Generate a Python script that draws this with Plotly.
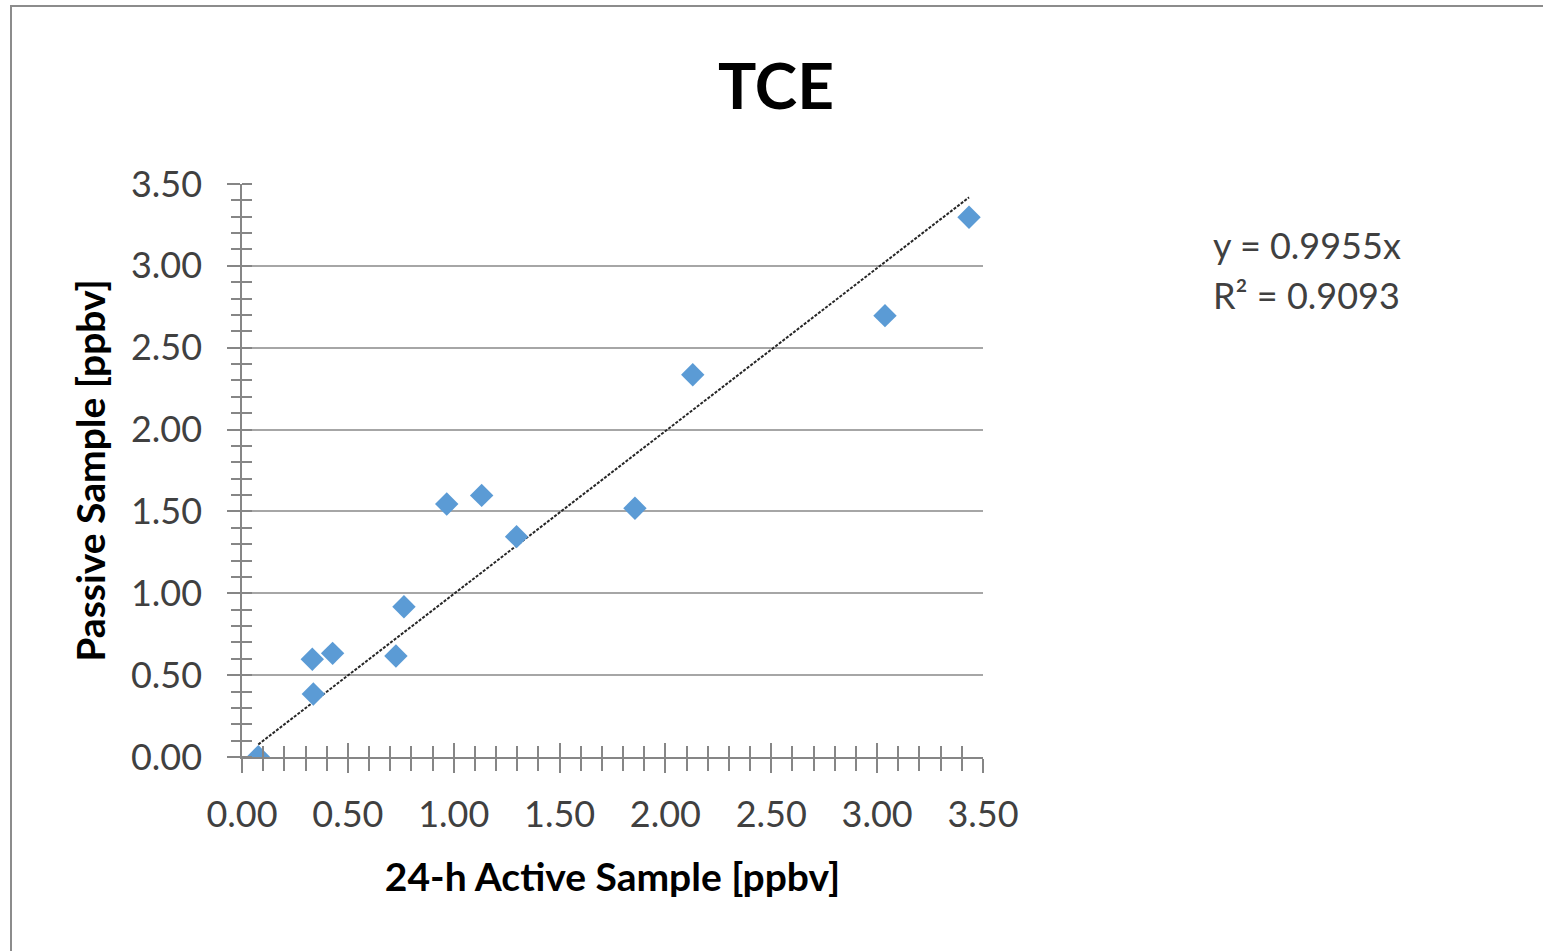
import plotly.graph_objects as go

# Data
active_24h = [0.077, 0.332, 0.337, 0.428, 0.727, 0.765, 0.967, 1.132, 1.297, 1.856, 2.129, 3.037, 3.434]
passive = [0.002, 0.597, 0.385, 0.633, 0.617, 0.918, 1.545, 1.598, 1.346, 1.519, 2.335, 2.696, 3.297]
slope = 0.9955
r_squared = 0.9093
tick_vals = [0.0, 0.5, 1.0, 1.5, 2.0, 2.5, 3.0, 3.5]
tick_text = ["0.00", "0.50", "1.00", "1.50", "2.00", "2.50", "3.00", "3.50"]

W, H = 1543, 951
L, T = 242, 184
R = W - 983
B = H - 757
pw, ph = W - L - R, H - T - B

FONT = "Lato"
AXIS_COLOR = "#868686"
GRID_COLOR = "#A6A6A6"


def px_x(xp):
    return (xp - L) / pw


def px_y(yp):
    return (H - B - yp) / ph


trend_x = [min(active_24h), max(active_24h)]
trend_y = [slope * v for v in trend_x]

fig = go.Figure()
fig.add_trace(go.Scatter(
    x=trend_x, y=trend_y, mode="lines",
    line=dict(color="#262626", width=2, dash="3px,1.5px"),
    hoverinfo="skip", showlegend=False,
))
fig.add_trace(go.Scatter(
    x=active_24h, y=passive, mode="markers",
    marker=dict(symbol="diamond", size=18, color="#5B9BD5", line=dict(width=0)),
    showlegend=False,
))
# invisible trace for overlay axes (crossing tick marks)
fig.add_trace(go.Scatter(
    x=active_24h, y=passive, mode="markers", xaxis="x2", yaxis="y2",
    marker=dict(opacity=0), hoverinfo="skip", showlegend=False,
))

common = dict(range=[0, 3.5], tickvals=tick_vals, ticktext=tick_text)

fig.update_layout(
    width=W, height=H,
    margin=dict(l=L, r=R, t=T, b=B, autoexpand=False),
    paper_bgcolor="white", plot_bgcolor="white",
    font=dict(family=FONT, color="#404040"),
    title=dict(
        text="<b>TCE</b>", font=dict(family=FONT, size=64, color="black"),
        xref="paper", x=px_x(776), xanchor="center",
        yref="container", y=1 - 87 / H, yanchor="middle",
    ),
    xaxis=dict(
        **common,
        showgrid=False, zeroline=False,
        showline=True, linecolor=AXIS_COLOR, linewidth=1.5,
        ticks="outside", ticklen=14, tickwidth=1.5, tickcolor=AXIS_COLOR,
        minor=dict(dtick=0.1, ticks="outside", ticklen=12, tickwidth=1.5, tickcolor=AXIS_COLOR, showgrid=False),
        tickfont=dict(family=FONT, size=36, color="#404040"),
        ticklabelstandoff=11,
        title=dict(text="<b>24-h Active Sample [ppbv]</b>", font=dict(family=FONT, size=39, color="black"), standoff=30),
    ),
    yaxis=dict(
        **common,
        showgrid=True, gridcolor=GRID_COLOR, gridwidth=1.5, zeroline=False,
        showline=True, linecolor=AXIS_COLOR, linewidth=1.5,
        ticks="outside", ticklen=13, tickwidth=1.5, tickcolor=AXIS_COLOR,
        minor=dict(dtick=0.1, ticks="outside", ticklen=9, tickwidth=1.5, tickcolor=AXIS_COLOR, showgrid=False),
        tickfont=dict(family=FONT, size=36, color="#404040"),
        ticklabelstandoff=18,
        title=dict(text="<b>Passive Sample [ppbv]</b>", font=dict(family=FONT, size=39, color="black"), standoff=13),
    ),
    xaxis2=dict(
        **common, overlaying="x", anchor="y2", side="bottom",
        showgrid=False, zeroline=False, showline=False, showticklabels=False,
        ticks="inside", ticklen=14, tickwidth=1.5, tickcolor=AXIS_COLOR,
        minor=dict(dtick=0.1, ticks="inside", ticklen=11, tickwidth=1.5, tickcolor=AXIS_COLOR, showgrid=False),
    ),
    yaxis2=dict(
        **common, overlaying="y", anchor="x2", side="left",
        showgrid=False, zeroline=False, showline=False, showticklabels=False,
        ticks="",
        minor=dict(dtick=0.1, ticks="inside", ticklen=10, tickwidth=1.5, tickcolor=AXIS_COLOR, showgrid=False),
    ),
    shapes=[dict(
        type="rect", xref="paper", yref="paper",
        x0=px_x(11), x1=px_x(1600),
        y0=px_y(1000), y1=px_y(6),
        line=dict(color="#8C8C8C", width=2), fillcolor="rgba(0,0,0,0)", layer="below",
    )],
    annotations=[
        dict(text=f"y = {slope:.4f}x", xref="paper", yref="paper",
             x=px_x(1211), y=px_y(245), xanchor="left", yanchor="middle",
             showarrow=False, font=dict(family=FONT, size=36, color="#404040")),
        dict(text=f"R² = {r_squared:.4f}", xref="paper", yref="paper",
             x=px_x(1211), y=px_y(295), xanchor="left", yanchor="middle",
             showarrow=False, font=dict(family=FONT, size=36, color="#404040")),
    ],
)

fig.write_html(
    "out.html",
    config={"displayModeBar": False},
    post_script="document.body.style.margin='0';document.body.style.overflow='hidden';",
)
